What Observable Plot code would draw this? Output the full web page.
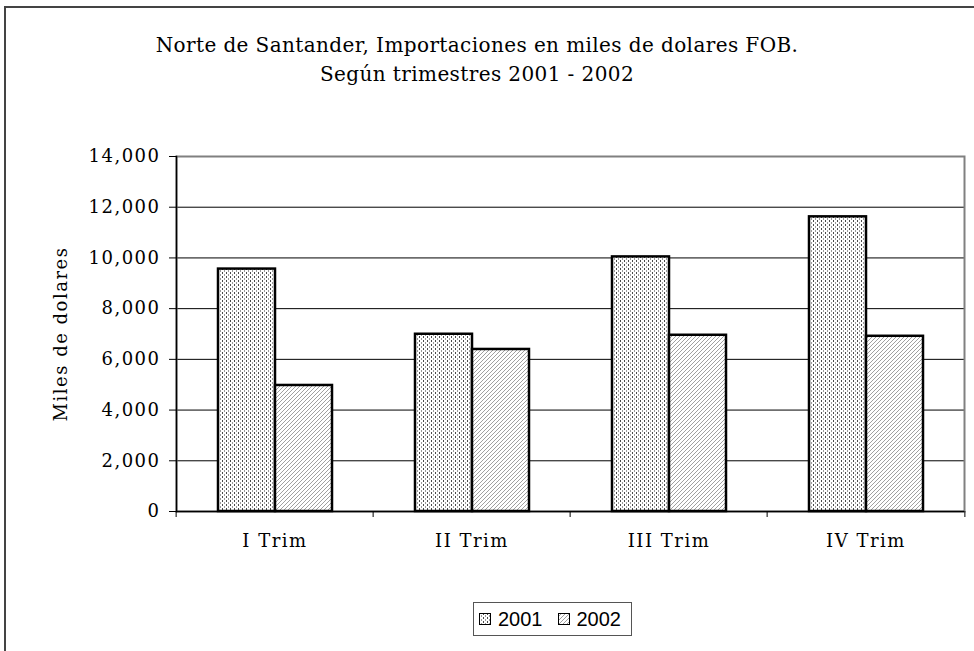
<!DOCTYPE html>
<html>
<head>
<meta charset="utf-8">
<script src="https://cdn.jsdelivr.net/npm/d3@7"></script>
<script src="https://cdn.jsdelivr.net/npm/@observablehq/plot@0.6"></script>
<style>
  html, body { margin: 0; padding: 0; background: #fff; }
  #wrap { position: relative; width: 974px; height: 651px; overflow: hidden; background: #fff; }
  #outer { position: absolute; left: 4px; top: 6px; width: 1200px; height: 900px; border: 2px solid #444; box-sizing: border-box; }
  #title { position: absolute; left: 0; top: 31px; width: 954px; text-align: center; font-family: "DejaVu Serif", serif; font-size: 20px; letter-spacing: 0.4px; line-height: 29px; color: #000; }
  #chart { position: absolute; left: 0; top: 0; }
  #chart svg text { letter-spacing: 1.5px; }
  #legend { position: absolute; left: 473px; top: 602px; width: 159px; height: 34px; border: 1px solid #555; box-sizing: border-box; font-family: "Liberation Sans", Arial, sans-serif; font-size: 20px; display: flex; align-items: center; padding-left: 5px; background: #fff; }
  #legend .item { display: flex; align-items: center; margin-right: 15px; }
  #legend svg { margin-right: 7px; }
</style>
</head>
<body>
<svg width="0" height="0" style="position:absolute">
  <defs>
    <pattern id="p2001" width="4" height="4" patternUnits="userSpaceOnUse">
      <rect width="4" height="4" fill="#fff"/>
      <rect x="0" y="0" width="1" height="2" fill="#4a4a4a"/>
      <rect x="2" y="2" width="1" height="2" fill="#9a9a9a"/>
    </pattern>
    <pattern id="p2002" width="4" height="4" patternUnits="userSpaceOnUse">
      <rect width="4" height="4" fill="#fff"/>
      <path d="M-1,1 L1,-1 M0,4 L4,0 M3,5 L5,3" stroke="#a0a0a0" stroke-width="1"/>
    </pattern>
  </defs>
</svg>
<div id="wrap">
  <div id="outer"></div>
  <div id="title"></div>
  <div id="chart"></div>
  <div id="legend"></div>
</div>
<script>
const titleLines = ["Norte de Santander, Importaciones en miles de dolares FOB.", "Según trimestres 2001 - 2002"];
const yLabel = "Miles de dolares";
const categories = ["I Trim", "II Trim", "III Trim", "IV Trim"];
const years = ["2001", "2002"];
const values2001 = [9560, 6990, 10040, 11620];
const values2002 = [4970, 6390, 6950, 6910];
const yTicks = [0, 2000, 4000, 6000, 8000, 10000, 12000, 14000];
const patternFills = ["url(#p2001)", "url(#p2002)"];

const table = categories.flatMap((c, i) => [
  {cat: c, year: years[0], value: values2001[i]},
  {cat: c, year: years[1], value: values2002[i]}
]);

document.getElementById("title").innerHTML = titleLines.join("<br>");

const W = 974, H = 651;
const mL = 174, mR = 9, mT = 156, mB = 140;
const step = (W - mL - mR) / categories.length;

const chart = Plot.plot({
  width: W,
  height: H,
  marginLeft: mL,
  marginRight: mR,
  marginTop: mT,
  marginBottom: mB,
  style: {fontFamily: "DejaVu Serif, serif", fontSize: "18px", background: "transparent", color: "#000"},
  fx: {domain: categories, padding: 0, label: null},
  x: {domain: years, paddingInner: 0, paddingOuter: 0.72, axis: null},
  y: {domain: [0, 14000], label: null},
  color: {domain: years, range: patternFills},
  marks: [
    Plot.ruleY(yTicks.filter(t => t > 0 && t < 14000), {stroke: "#000", strokeWidth: 1}),
    Plot.frame({facet: "super", stroke: "#808080", strokeWidth: 2}),
    Plot.barY(table, {fx: "cat", x: "year", y: "value", fill: "year", stroke: "#000", strokeWidth: 2.5}),
    Plot.ruleY([0], {stroke: "#000", strokeWidth: 1.5}),
    Plot.frame({facet: "super", anchor: "left", stroke: "#000", strokeWidth: 1.5}),
    Plot.axisY({ticks: yTicks, tickFormat: d3.format(","), tickSize: 7, tickPadding: 9, label: null, fontSize: 18}),
    Plot.axisFx({anchor: "bottom", tickSize: 6, dx: -step / 2, tickFormat: () => "", label: null}),
    Plot.axisFx({anchor: "bottom", ticks: [categories[categories.length - 1]], tickSize: 6, dx: step / 2, tickFormat: () => "", label: null}),
    Plot.axisFx({anchor: "bottom", tickSize: 0, tickPadding: 23, label: null, fontSize: 18}),
    Plot.text([yLabel], {text: d => d, facet: "super", frameAnchor: "left", textAnchor: "middle", dx: -115, rotate: -90, fontSize: 18})
  ]
});
document.getElementById("chart").appendChild(chart);

const legend = document.getElementById("legend");
years.forEach((y, i) => {
  const item = document.createElement("div");
  item.className = "item";
  item.innerHTML = `<svg width="12" height="12"><rect x="0.5" y="0.5" width="11" height="11" fill="${patternFills[i]}" stroke="#000" stroke-width="1"/></svg><span>${y}</span>`;
  legend.appendChild(item);
});
</script>
</body>
</html>
